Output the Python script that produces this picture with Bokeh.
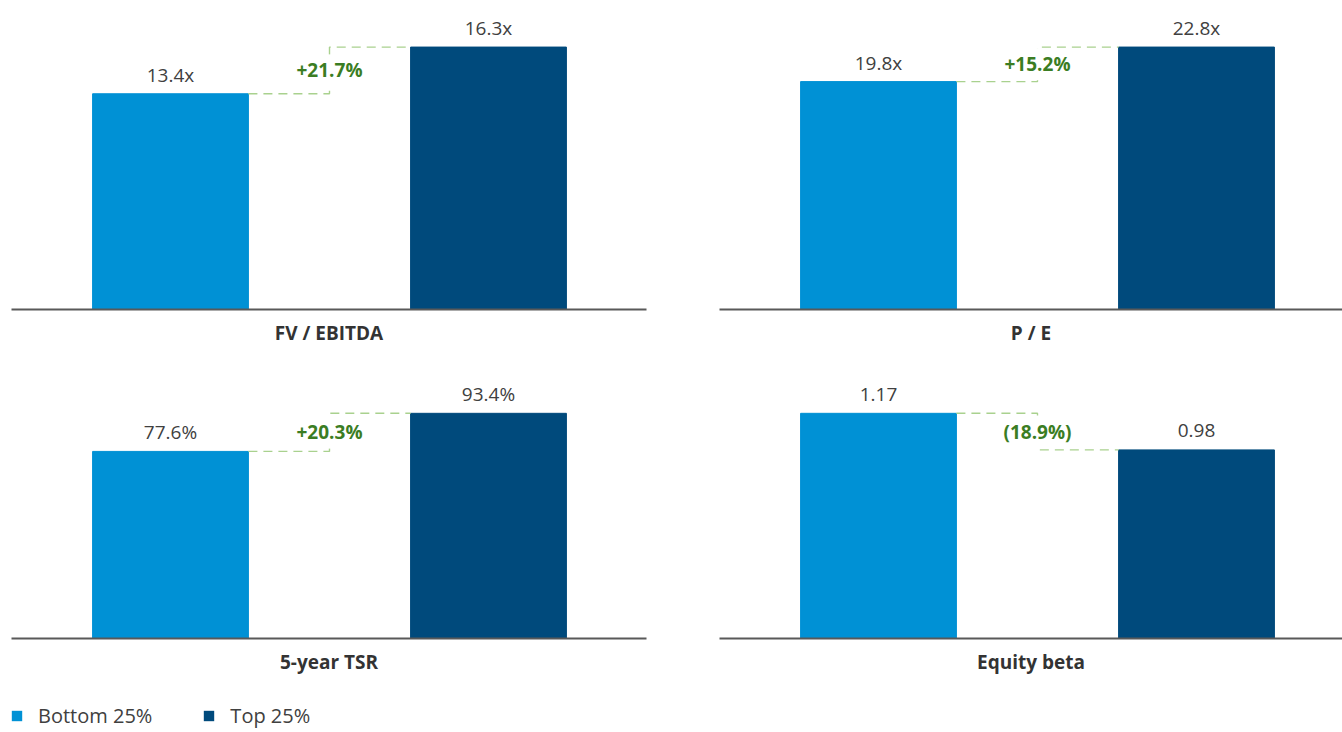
from bokeh.plotting import figure
from bokeh.layouts import column, row
from bokeh.models import Range1d, FixedTicker, Legend, LegendItem, ColumnDataSource
from bokeh.core.properties import value
from bokeh.embed import file_html
from bokeh.resources import INLINE

# ---- data ----
panels = ["FV / EBITDA", "P / E", "5-year TSR", "Equity beta"]
series = ["Bottom 25%", "Top 25%"]
bottom_vals = [13.4, 19.8, 77.6, 1.17]
top_vals = [16.3, 22.8, 93.4, 0.98]
value_fmt = ["{:.1f}x", "{:.1f}x", "{:.1f}%", "{:.2f}"]
delta_labels = ["+21.7%", "+15.2%", "+20.3%", "(18.9%)"]

# ---- style ----
LIGHT = "#0091D5"
DARK = "#004A7C"
COLORS = [LIGHT, DARK]
AXIS = "#595959"
TXT = "#404040"
GREEN = "#3B7D23"
DASH = "#A9D18E"
FONT = "Open Sans"
BAR_W = 0.49


def make_panel(i, x_end, frame_w, frame_h, headroom, border_l, border_r, border_t, border_b):
    vals = [bottom_vals[i], top_vals[i]]
    xs = [k + 0.5 for k in range(len(series))]
    p = figure(
        frame_width=frame_w, frame_height=frame_h,
        x_range=Range1d(0, x_end), y_range=Range1d(0, max(vals) * headroom),
        output_backend="svg", toolbar_location=None,
        min_border_left=border_l, min_border_right=border_r,
        min_border_top=border_t, min_border_bottom=border_b,
    )
    p.outline_line_color = None
    p.grid.visible = False
    p.yaxis.visible = False
    ax = p.xaxis[0]
    ax.ticker = FixedTicker(ticks=[])
    ax.axis_line_color = AXIS
    ax.axis_line_width = 2
    ax.major_tick_out = 0
    ax.major_tick_in = 0
    ax.minor_tick_out = 0
    ax.minor_tick_in = 0
    ax.major_label_standoff = 0
    ax.axis_label = panels[i]
    ax.axis_label_text_font = FONT
    ax.axis_label_text_font_style = "bold"
    ax.axis_label_text_font_size = "19px"
    ax.axis_label_text_color = "#333333"
    ax.axis_label_standoff = 10

    src = ColumnDataSource(dict(
        x=xs, top=vals, color=COLORS,
        label=[value_fmt[i].format(v) for v in vals],
    ))
    p.vbar(x="x", top="top", width=BAR_W, color="color", source=src)
    p.text(x="x", y="top", text="label", source=src,
           text_font=value(FONT), text_font_size="19px", text_color=TXT,
           text_align="center", text_baseline="middle", y_offset=-19)

    # connector
    mid = (xs[0] + xs[1]) / 2
    cx = [xs[0] + BAR_W / 2, mid, mid, xs[1] - BAR_W / 2]
    cy = [vals[0], vals[0], vals[1], vals[1]]
    p.line(cx, cy, line_color=DASH, line_width=1.4, line_dash="9 6")
    p.text(x=[mid], y=[(vals[0] + vals[1]) / 2], text=[delta_labels[i]],
           text_font=value(FONT), text_font_style="bold", text_font_size="19px",
           text_color=GREEN, text_align="center", text_baseline="middle",
           background_fill_color="white", padding=3)
    return p


UNIT = 318.0
p1 = make_panel(0, 635 / UNIT, 635, 301, 1.147, 11, 36, 8, 41)
p2 = make_panel(1, 623 / UNIT, 623, 301, 1.147, 37, 0, 8, 41)
p3 = make_panel(2, 635 / UNIT, 635, 288, 1.279, 11, 36, 0, 36)
p4 = make_panel(3, 623 / UNIT, 623, 288, 1.279, 37, 0, 0, 36)

# legend strip
lg = figure(width=1342, height=54, x_range=Range1d(0, 1), y_range=Range1d(0, 1),
            output_backend="svg", toolbar_location=None,
            min_border=0)
lg.outline_line_color = None
lg.grid.visible = False
lg.axis.visible = False
items = []
for name, c in zip(series, COLORS):
    r = lg.vbar(x=[0.5], top=[0], width=0, color=c, line_color=None)
    items.append(LegendItem(label=name, renderers=[r]))
leg = Legend(items=items, orientation="horizontal", location=(10, 2),
             border_line_color=None, background_fill_alpha=0,
             padding=0, margin=0, glyph_width=13, glyph_height=13,
             label_standoff=15, spacing=50,
             label_text_font=FONT, label_text_font_size="20px",
             label_text_color=TXT)
lg.add_layout(leg, "center")

layout = column(row(p1, p2), row(p3, p4), lg)
open("out.html", "w").write(file_html(layout, INLINE))
